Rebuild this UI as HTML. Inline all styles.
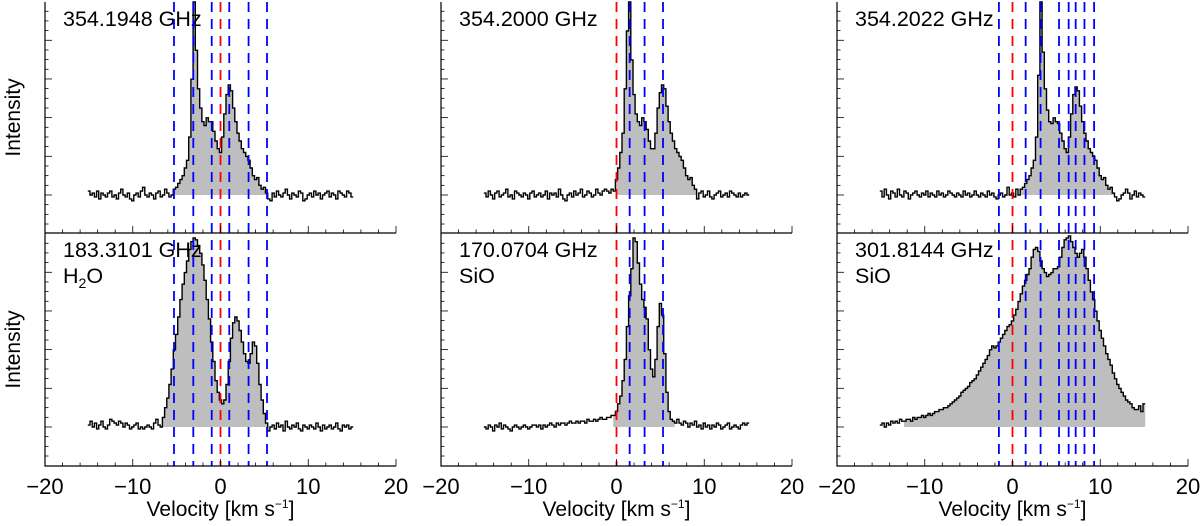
<!DOCTYPE html>
<html><head><meta charset="utf-8"><style>
body{margin:0;background:#fff;}
svg{display:block;font-family:"Liberation Sans",sans-serif;}
</style></head><body>
<svg id="c" width="1200" height="526" xmlns="http://www.w3.org/2000/svg"></svg>
<script>
// velocity grid: -15 to 15 step 0.25 (121 channels)
const vStart = -15, vStep = 0.25;
const xTicks = [-20, -10, 0, 10, 20];
const freqLabels = ["354.1948 GHz","354.2000 GHz","354.2022 GHz","183.3101 GHz","170.0704 GHz","301.8144 GHz"];
const speciesLabels = ["","","","H2O","SiO","SiO"];
const redLines = [[0],[0],[0]];
const blueLines = [[-5.3,-3.1,-1.0,1.0,3.2,5.3],[1.5,3.2,5.3],[-1.55,1.5,3.2,5.3,6.4,7.2,8.2,9.3]];
const fillRanges = [[-5.5,5.5],[0,9.25],[0.75,11.75],[-6.75,5.5],[-0.25,6.5],[-12.25,15]];
const spec1 = [2,0,1,-1,2,-2,1,0,-1,1,2,-1,0,-2,1,3,0,-1,1,-2,-3,0,1,-1,2,4,0,-1,1,0,-2,1,2,-1,0,3,1,-1,0,
 3,4,6,8,10,14,18,30,60,100,75,55,45,38,36,40,38,38,33,28,24,22,30,42,52,57,54,45,38,32,28,24,22,20,18,14,10,8,9,5,3,4,1,
 -2,-3,1,-1,2,0,-1,1,3,0,-2,1,0,-1,2,1,-3,-2,0,1,-1,2,0,1,-2,0,1,2,-1,1,0,-2,2,1,0,-1,2,1,-1];
const spec2 = [1,-1,2,0,-2,1,2,-1,0,1,3,-1,0,-2,2,1,0,-1,1,0,-2,1,2,-1,0,1,-1,0,2,-2,1,0,1,-1,3,0,-2,-3,0,1,-1,2,0,1,3,-1,0,2,1,-1,0,3,1,0,2,3,2,1,3,2,
 8,14,22,32,55,85,100,70,52,42,38,36,40,38,34,28,24,24,32,45,53,57,55,46,38,32,28,24,22,20,18,14,10,8,9,5,3,
 -2,1,2,-1,0,2,-1,-2,0,1,2,-1,0,1,-1,2,1,0,-1,1,-1,0,1,0];
const spec3 = [2,-1,3,0,-2,2,1,-1,3,0,-1,2,1,-2,0,1,2,0,-1,1,0,2,-1,1,0,-1,2,0,1,-1,0,2,1,0,-1,1,0,-1,2,0,1,-1,0,2,0,-1,1,0,-1,2,0,1,-1,-2,0,1,-1,0,4,0,1,-1,3,0,
 3,4,6,8,10,14,18,30,62,100,74,55,44,38,37,40,38,37,32,28,24,22,30,42,52,56,54,46,38,32,28,24,22,20,18,14,10,8,9,5,3,4,1,
 -1,-3,-2,0,1,3,1,-2,0,2,-1,1,0,-1];
const spec4 = [1,3,0,2,-1,1,3,0,-1,1,4,3,2,1,3,2,0,2,1,-1,0,1,2,-1,0,-1,0,1,0,-1,2,4,1,0,
 5,10,15,22,30,40,48,57,66,74,80,86,92,96,98,97,94,90,84,76,66,56,44,34,24,18,14,12,14,22,34,46,54,57,55,50,44,38,34,33,38,44,42,33,22,14,7,2,
 -2,0,1,-1,2,0,1,-2,3,0,-1,1,0,2,-1,-2,1,0,-1,1,0,-1,2,0,-2,1,-1,0,1,-1,0,2,-1,-2,1,0,1,-1,0];
const spec5 = [0,-1,1,0,-2,1,0,2,-1,1,0,-1,-2,0,1,0,-1,0,1,0,-1,0,1,1,0,1,-1,1,0,1,2,1,0,2,1,2,2,1,2,3,2,2,3,2,3,3,2,4,3,3,4,3,4,5,4,4,5,5,6,6,
 8,12,16,24,35,52,68,82,98,96,85,74,66,62,56,40,30,26,35,52,64,58,38,18,8,4,
 3,2,4,2,1,3,2,0,2,1,3,0,1,-1,2,0,1,-1,1,0,2,1,-1,0,1,2,-1,0,1,0,-1,1,2,1,2];
const spec6 = [1,2,0,2,1,3,2,3,2,4,3,3,4,
 4,3,5,4,5,5,6,5,6,7,6,7,8,8,9,9,
 10,10,11,12,13,14,15,16,18,19,20,21,23,24,25,27,
 29,31,33,35,37,40,42,41,
 42,44,46,48,50,52,53,55,
 58,61,65,69,73,76,79,82,
 88,92,93,91,86,82,80,78,
 79,80,82,82,83,88,93,97,
 98,99,96,93,90,88,90,92,
 88,82,76,70,66,60,55,50,
 46,42,38,35,32,28,25,22,
 20,18,16,14,13,12,10,9,9,11,8,12];
const spectra = [spec1,spec2,spec3,spec4,spec5,spec6];

const NS = "http://www.w3.org/2000/svg";
const svg = document.getElementById("c");
function mk(tag, attrs, parent){const e=document.createElementNS(NS,tag);for(const k in attrs)e.setAttribute(k,attrs[k]);(parent||svg).appendChild(e);return e;}

const colLeft = [45, 441, 837], colW = 351;
const panelTop = [2, 233], panelBot = [233, 466], baseY = [195, 427], peakH = 193;
function xScale(col, v){return colLeft[col] + (v + 20) / 40 * colW;}
function yScale(row, p){return baseY[row] - p / 100 * peakH;}

for (let col = 0; col < 3; col++) {
  const g = mk("g", {});
  
  
  for (let row = 0; row < 2; row++) {
    const idx = row * 3 + col;
    const data = spectra[idx];
    const pg = mk("g", {}, g);
    
    
    const [lo, hi] = fillRanges[idx];
    let fd = "", line = "";
    let started = false;
    for (let i = 0; i < data.length; i++) {
      const v = vStart + i * vStep;
      const xa = xScale(col, v - vStep / 2), xb = xScale(col, v + vStep / 2);
      const y = yScale(row, data[i]);
      line += (i === 0 ? "M" : "L") + xa.toFixed(1) + "," + y.toFixed(1) + "L" + xb.toFixed(1) + "," + y.toFixed(1);
      if (v >= lo && v <= hi) {
        const yf = yScale(row, Math.max(0, data[i]));
        if (!started) { fd += "M" + xa.toFixed(1) + "," + baseY[row]; started = true; }
        fd += "L" + xa.toFixed(1) + "," + yf.toFixed(1) + "L" + xb.toFixed(1) + "," + yf.toFixed(1);
        if (v + vStep > hi || i === data.length - 1) fd += "L" + xb.toFixed(1) + "," + baseY[row] + "Z";
      }
    }
    const fp = mk("path", {d: fd, fill: "#bebebe", stroke: "none"}, pg);
    
    
    const lp = mk("path", {d: line, fill: "none", stroke: "#000", "stroke-width": 1.4}, pg);
    
    
    const t = mk("text", {x: colLeft[col] + 18, y: panelTop[row] + 24, "font-size": 21.5}, pg);
    t.textContent = freqLabels[idx];
    
    
    if (speciesLabels[idx]) {
      const s = mk("text", {x: colLeft[col] + 18, y: panelTop[row] + 50, "font-size": 21.5}, pg);
      if (speciesLabels[idx] === "H2O") {
        s.innerHTML = 'H<tspan font-size="14" dy="5">2</tspan><tspan dy="-5">O</tspan>';
      } else s.textContent = speciesLabels[idx];
      
      
    }
    for (let k = -4; k <= 24; k++) {
      const y = baseY[row] - k * 9.67;
      if (y < panelTop[row] + 1 || y > panelBot[row] - 1) continue;
      const len = (k % 4 === 0) ? 7 : 3.5;
      mk("line", {x1: colLeft[col], x2: colLeft[col] + len, y1: y, y2: y, stroke: "#000", "stroke-width": 0.8}, pg);
    }
    if (col === 0) {
      const yl = mk("text", {x: 0, y: 0, "font-size": 21, "text-anchor": "middle", transform: "translate(20," + ((panelTop[row] + panelBot[row]) / 2) + ") rotate(-90)"}, pg);
      yl.textContent = "Intensity";
      
      
    }
  }
  const drawV = (v, color, name) => {
    const l = mk("line", {x1: xScale(col, v), x2: xScale(col, v), y1: 2, y2: 466, stroke: color, "stroke-width": 1.8, "stroke-dasharray": "10,7"}, g);
    
    
  };
  blueLines[col].forEach(v => drawV(v, "#0000ff", "blue-velocity-marker"));
  redLines[col].forEach(v => drawV(v, "#ff0000", "red-systemic-marker"));
  const ax = mk("path", {d: "M" + colLeft[col] + ",2V466H" + (colLeft[col] + colW) + "M" + colLeft[col] + ",233H" + (colLeft[col] + colW), stroke: "#000", "stroke-width": 1.2, fill: "none"}, g);
  
  
  for (let v = -20; v <= 20; v += 2) {
    const x = xScale(col, v), major = (v % 10 === 0);
    const len = major ? 7 : 3.5;
    mk("line", {x1: x, x2: x, y1: 466, y2: 466 - len, stroke: "#000", "stroke-width": 0.8}, g);
    mk("line", {x1: x, x2: x, y1: 233, y2: 233 - len, stroke: "#000", "stroke-width": 0.8}, g);
  }
  xTicks.forEach(v => {
    const t = mk("text", {x: xScale(col, v), y: 494, "font-size": 22, "text-anchor": "middle"}, g);
    t.textContent = v < 0 ? "\u2212" + (-v) : String(v);
    
    
  });
  const xt = mk("text", {x: colLeft[col] + colW / 2, y: 516, "font-size": 21, "text-anchor": "middle"}, g);
  xt.innerHTML = 'Velocity [km s<tspan font-size="12" dy="-8">\u22121</tspan><tspan dy="8">]</tspan>';
  
  
}
</script>
</body></html>
